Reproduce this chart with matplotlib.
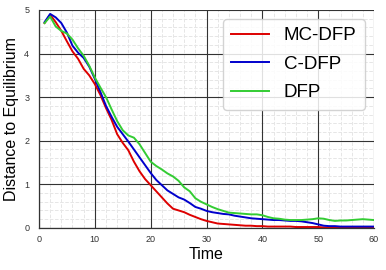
import matplotlib
matplotlib.use("Agg")
import matplotlib.pyplot as plt
from matplotlib.ticker import MultipleLocator

plt.rcParams["font.family"] = ["Liberation Sans", "DejaVu Sans"]

# время 1..60
time = list(range(1, 61))

mc_dfp = [4.70, 4.89, 4.72, 4.52, 4.28, 4.05, 3.88, 3.65, 3.50, 3.30,
          3.05, 2.75, 2.48, 2.15, 1.95, 1.78, 1.52, 1.30, 1.12, 0.98,
          0.84, 0.70, 0.56, 0.44, 0.40, 0.36, 0.30, 0.25, 0.20, 0.16,
          0.13, 0.10, 0.09, 0.08, 0.07, 0.06, 0.05, 0.05, 0.04, 0.04,
          0.03, 0.03, 0.03, 0.03, 0.03, 0.02, 0.02, 0.02, 0.02, 0.02,
          0.01, 0.01, 0.01, 0.01, 0.01, 0.01, 0.01, 0.01, 0.01, 0.01]

c_dfp = [4.72, 4.91, 4.83, 4.70, 4.48, 4.18, 4.02, 3.90, 3.70, 3.42,
         3.12, 2.80, 2.55, 2.32, 2.15, 1.98, 1.80, 1.62, 1.44, 1.26,
         1.10, 0.98, 0.86, 0.78, 0.70, 0.65, 0.57, 0.48, 0.44, 0.39,
         0.36, 0.34, 0.32, 0.31, 0.28, 0.26, 0.24, 0.22, 0.21, 0.20,
         0.19, 0.18, 0.18, 0.17, 0.16, 0.16, 0.15, 0.13, 0.11, 0.08,
         0.05, 0.04, 0.04, 0.03, 0.03, 0.03, 0.03, 0.03, 0.03, 0.03]

dfp = [4.70, 4.85, 4.62, 4.52, 4.46, 4.32, 4.12, 3.95, 3.72, 3.45,
       3.22, 3.00, 2.72, 2.45, 2.24, 2.12, 2.07, 1.92, 1.72, 1.52,
       1.42, 1.34, 1.25, 1.18, 1.08, 0.93, 0.84, 0.68, 0.60, 0.54,
       0.48, 0.43, 0.39, 0.35, 0.34, 0.33, 0.32, 0.31, 0.31, 0.29,
       0.25, 0.22, 0.21, 0.19, 0.18, 0.18, 0.18, 0.19, 0.20, 0.22,
       0.21, 0.18, 0.16, 0.17, 0.17, 0.18, 0.19, 0.20, 0.19, 0.18]

fig = plt.figure(figsize=(3.86, 2.70), dpi=100)
rect = [0.101, 0.156, 0.868, 0.807]

# нижние оси только для мелкой сетки
bg = fig.add_axes(rect, zorder=0)
bg.set_xlim(0, 60)
bg.set_ylim(0, 5)
bg.xaxis.set_minor_locator(MultipleLocator(2))
bg.yaxis.set_minor_locator(MultipleLocator(0.2))
bg.grid(which="minor", color="#e6e6e6", lw=0.7, ls="--")
bg.tick_params(which="both", length=0, labelbottom=False, labelleft=False)
for s in bg.spines.values():
    s.set_visible(False)

ax = fig.add_axes(rect, zorder=1)
ax.patch.set_visible(False)

ax.plot(time, mc_dfp, color="#dd0000", lw=1.4, label="MC-DFP")
ax.plot(time, c_dfp, color="#0000cc", lw=1.4, label="C-DFP")
ax.plot(time, dfp, color="#33cc33", lw=1.4, label="DFP")

ax.set_xlim(0, 60)
ax.set_ylim(0, 5)
ax.xaxis.set_major_locator(MultipleLocator(10))
ax.yaxis.set_major_locator(MultipleLocator(1))

ax.grid(which="major", color="#333333", lw=0.8)
ax.set_axisbelow(True)

ax.tick_params(which="both", length=0, labelsize=6.5, labelcolor="#333333")
ax.tick_params(axis="x", pad=5)
ax.tick_params(axis="y", pad=7)

for side in ["top", "right"]:
    ax.spines[side].set_visible(False)
for side in ["left", "bottom"]:
    ax.spines[side].set_color("#333333")
    ax.spines[side].set_linewidth(0.9)

ax.set_xlabel("Time", fontsize=11.5, labelpad=2)
ax.set_ylabel("Distance to Equilibrium", fontsize=11.5, labelpad=4)

ax.legend(loc="upper right", fontsize=13.5, framealpha=0.85,
          edgecolor="#cccccc", borderpad=0.45, labelspacing=0.6,
          borderaxespad=0.3, bbox_to_anchor=(0.99, 0.985))

fig.savefig("out.png", dpi=100)
